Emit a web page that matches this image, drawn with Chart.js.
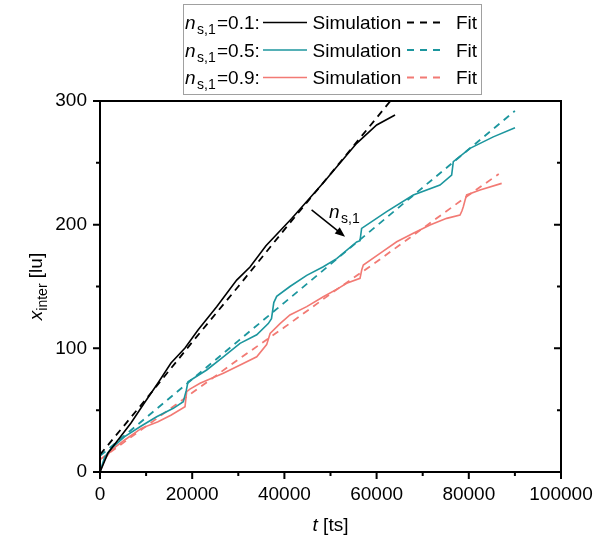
<!DOCTYPE html>
<html><head><meta charset="utf-8">
<script src="https://cdn.jsdelivr.net/npm/chart.js@4"></script>
<style>html,body{margin:0;padding:0;background:#fff;}canvas{display:block}</style>
</head><body>
<canvas id="c" width="608" height="539"></canvas>
<script>
const FONT = '"Liberation Sans", Arial, Helvetica, sans-serif';

// ---- axes / ticks ----
const xTicks = [0, 20000, 40000, 60000, 80000, 100000];
const xMinor = [10000, 30000, 50000, 70000, 90000];
const yTicks = [0, 100, 200, 300];
const yMinor = [50, 150, 250];

// ---- legend categories ----
const nValues = ['0.1', '0.5', '0.9'];

// ---- n_s,1 = 0.1 ----
const blackSimT = [0, 1735, 3900, 6725, 9760, 12580, 15400, 18440, 21260, 25310, 29650, 32540, 36000, 41580, 48400, 55680, 60020, 64000];
const blackSimV = [0, 15.4, 25.9, 39.6, 56.6, 72, 88.1, 100.3, 114.8, 133.7, 155.2, 165.8, 183, 205, 233.7, 265.8, 280.6, 288.7];
const blackFitT = [0, 10000, 20000, 30000, 40000, 50000, 63000];
const blackFitV = [14, 59, 105, 150, 196, 241, 300];

// ---- n_s,1 = 0.5 ----
const tealSimT = [0, 1000, 2450, 5350, 8680, 12290, 15900, 18070, 18720, 19090, 23140, 26750, 30370, 34000, 36500, 37200, 37700, 38330, 41200, 44840, 48440, 51340, 55680, 56400, 56750, 62180, 67960, 73750, 76280, 76640, 80260, 85310, 90020];
const tealSimV = [0, 12, 19.1, 28.6, 36.6, 44.7, 51.5, 56.8, 66, 73, 82.5, 93, 104, 111, 120, 124, 137, 142, 150, 159, 166, 172.5, 186, 187, 197, 210.5, 224, 232, 240, 251, 261.7, 271, 278.4];
const tealFitT = [0, 10000, 20000, 30000, 40000, 50000, 60000, 70000, 80000, 90000];
const tealFitV = [13, 44, 75, 106, 137, 168, 199, 230, 261, 292];

// ---- n_s,1 = 0.9 ----
const redSimT = [0, 1000, 2450, 5350, 8960, 12580, 15470, 18440, 18800, 19500, 21700, 26750, 30400, 34000, 36150, 36900, 39050, 41200, 44840, 48440, 51700, 53500, 56400, 56770, 57120, 60740, 64360, 67960, 71580, 75200, 78090, 78500, 78810, 79200, 79530, 82430, 87130];
const redSimV = [0, 10, 17.8, 25.9, 35.3, 40.7, 46.1, 52.8, 65, 67, 71.7, 79.8, 86.5, 93.2, 103, 112, 120, 127, 133.7, 141.7, 148.5, 152.6, 156.6, 163.3, 167.4, 176.8, 186.2, 193, 199.7, 205.1, 207.8, 211, 214.5, 220, 224, 228, 233.4];
const redFitT = [0, 10000, 20000, 30000, 40000, 50000, 60000, 70000, 80000, 86500];
const redFitV = [10, 37, 64, 91, 117, 144, 170, 197, 224, 241];

// ---- annotation (data coords) ----
const arrowT = [45900, 53150];
const arrowV = [211.9, 190.3];
const arrowLabelT = 49675;
const arrowLabelV = 205.1;

const COL = ['#000000', '#1c969e', '#f27a74'];

function pts(T, V) { return T.map((t, i) => ({x: t, y: V[i]})); }
const SOLID_W = 1.6, DASH_W = 1.8, DASH = [7, 5.5];

const datasets = [
  {data: pts(blackSimT, blackSimV), borderColor: COL[0], borderWidth: SOLID_W},
  {data: pts(blackFitT, blackFitV), borderColor: COL[0], borderWidth: DASH_W, borderDash: DASH},
  {data: pts(tealSimT, tealSimV), borderColor: COL[1], borderWidth: SOLID_W},
  {data: pts(tealFitT, tealFitV), borderColor: COL[1], borderWidth: DASH_W, borderDash: DASH},
  {data: pts(redSimT, redSimV), borderColor: COL[2], borderWidth: SOLID_W},
  {data: pts(redFitT, redFitV), borderColor: COL[2], borderWidth: DASH_W, borderDash: DASH},
];

function setFont(ctx, size, italic) { ctx.font = (italic ? 'italic ' : '') + size + 'px ' + FONT; }
function rich(ctx, parts, x, y, center) {
  let w = 0;
  parts.forEach(p => { setFont(ctx, p.size, p.italic); p.w = ctx.measureText(p.t).width; w += p.w + (p.gap || 0); });
  let cx = center ? x - w / 2 : x;
  parts.forEach(p => { cx += (p.gap || 0); setFont(ctx, p.size, p.italic); ctx.fillText(p.t, cx, y + (p.dy || 0)); cx += p.w; });
}

const decor = {
  id: 'decor',
  afterDatasetsDraw(chart) {
    const ctx = chart.ctx, ca = chart.chartArea;
    const xs = chart.scales.x, ys = chart.scales.y;
    ctx.save();
    ctx.fillStyle = '#000'; ctx.strokeStyle = '#000';
    ctx.textBaseline = 'alphabetic'; ctx.textAlign = 'left';
    // frame
    ctx.lineWidth = 2;
    ctx.strokeRect(ca.left, ca.top, ca.right - ca.left, ca.bottom - ca.top);
    // ticks
    ctx.beginPath();
    const tick = (x1, y1, x2, y2) => { ctx.moveTo(x1, y1); ctx.lineTo(x2, y2); };
    yTicks.forEach(v => { const y = ys.getPixelForValue(v); tick(ca.left - 7, y, ca.left, y); tick(ca.right - 7, y, ca.right, y); });
    yMinor.forEach(v => { const y = ys.getPixelForValue(v); tick(ca.left - 4, y, ca.left, y); tick(ca.right - 4, y, ca.right, y); });
    xTicks.forEach(v => { const x = xs.getPixelForValue(v); tick(x, ca.bottom, x, ca.bottom + 7); });
    xMinor.forEach(v => { const x = xs.getPixelForValue(v); tick(x, ca.bottom, x, ca.bottom + 4); });
    ctx.stroke();

    // arrow
    const ax0 = xs.getPixelForValue(arrowT[0]), ay0 = ys.getPixelForValue(arrowV[0]);
    const ax1 = xs.getPixelForValue(arrowT[1]), ay1 = ys.getPixelForValue(arrowV[1]);
    const ang = Math.atan2(ay1 - ay0, ax1 - ax0);
    ctx.lineWidth = 1.5;
    ctx.beginPath(); ctx.moveTo(ax0, ay0); ctx.lineTo(ax1 - 6 * Math.cos(ang), ay1 - 6 * Math.sin(ang)); ctx.stroke();
    ctx.beginPath();
    ctx.moveTo(ax1, ay1);
    ctx.lineTo(ax1 - 10 * Math.cos(ang) + 4 * Math.sin(ang), ay1 - 10 * Math.sin(ang) - 4 * Math.cos(ang));
    ctx.lineTo(ax1 - 10 * Math.cos(ang) - 4 * Math.sin(ang), ay1 - 10 * Math.sin(ang) + 4 * Math.cos(ang));
    ctx.closePath(); ctx.fill();
    const lx = xs.getPixelForValue(arrowLabelT), ly = ys.getPixelForValue(arrowLabelV);
    setFont(ctx, 19, true); ctx.fillText('n', lx, ly);
    setFont(ctx, 14, false); ctx.fillText('s,1', lx + 12, ly + 5);

    // axis titles
    rich(ctx, [{t: 't', size: 19, italic: true}, {t: ' [ts]', size: 19}], (ca.left + ca.right) / 2, 531, true);
    ctx.save();
    ctx.translate(42, (ca.top + ca.bottom) / 2);
    ctx.rotate(-Math.PI / 2);
    rich(ctx, [{t: 'x', size: 19, italic: true}, {t: 'inter', size: 14, dy: 5}, {t: ' [lu]', size: 19}], 0, 0, true);
    ctx.restore();

    // legend
    ctx.lineWidth = 1; ctx.strokeStyle = '#a0a0a0';
    ctx.strokeRect(183.5, 4.5, 298, 90);
    nValues.forEach((nv, i) => {
      const ly2 = 22.5 + i * 27.5, bl = ly2 + 6.5;
      ctx.fillStyle = '#000';
      setFont(ctx, 19, true); ctx.fillText('n', 185, bl);
      setFont(ctx, 14, false); ctx.fillText('s,1', 197, bl + 5);
      setFont(ctx, 19, false); ctx.fillText('=' + nv + ':', 217, bl);
      ctx.fillText('Simulation', 312.5, bl);
      ctx.fillText('Fit', 456, bl);
      ctx.strokeStyle = COL[i];
      ctx.lineWidth = SOLID_W; ctx.setLineDash([]);
      ctx.beginPath(); ctx.moveTo(263, ly2); ctx.lineTo(307, ly2); ctx.stroke();
      ctx.lineWidth = DASH_W; ctx.setLineDash([7, 6]);
      ctx.beginPath(); ctx.moveTo(407, ly2); ctx.lineTo(441, ly2); ctx.stroke();
      ctx.setLineDash([]);
    });
    ctx.restore();
  }
};

new Chart(document.getElementById('c'), {
  type: 'line',
  data: {datasets},
  plugins: [decor],
  options: {
    responsive: false, devicePixelRatio: 1, animation: false,
    layout: {padding: {left: 0, top: 101, right: 47, bottom: 0}},
    plugins: {legend: {display: false}, tooltip: {enabled: false}},
    elements: {point: {radius: 0}, line: {tension: 0, fill: false}},
    scales: {
      x: {
        type: 'linear', min: 0, max: 100000,
        afterFit(s) { s.height = 67; },
        afterBuildTicks(s) { s.ticks = xTicks.map(v => ({value: v})); },
        grid: {display: false, drawTicks: false}, border: {display: false},
        ticks: {autoSkip: false, maxRotation: 0, padding: 11, color: '#000', font: {family: FONT, size: 19}, callback: v => String(v)}
      },
      y: {
        type: 'linear', min: 0, max: 300,
        afterFit(s) { s.width = 100; },
        afterBuildTicks(s) { s.ticks = yTicks.map(v => ({value: v})); },
        grid: {display: false, drawTicks: false}, border: {display: false},
        ticks: {padding: 13, color: '#000', font: {family: FONT, size: 19}, callback: v => String(v)}
      }
    }
  }
});
</script>
</body></html>
